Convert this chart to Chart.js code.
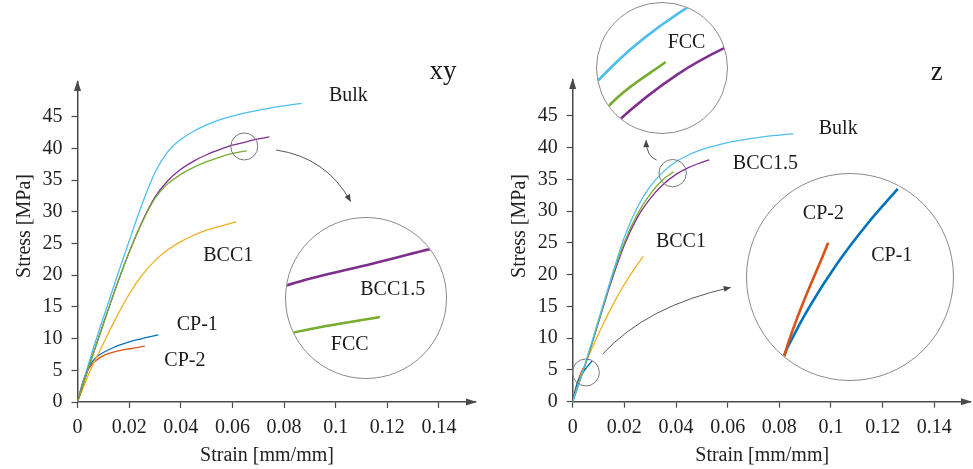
<!DOCTYPE html>
<html>
<head>
<meta charset="utf-8">
<title>Stress-strain xy / z</title>
<script src="https://cdn.jsdelivr.net/npm/chart.js@4.4.0/dist/chart.umd.min.js"></script>
<style>
  body { margin: 0; background: #fff; width: 973px; height: 469px; overflow: hidden; position: relative; }
  canvas { position: absolute; left: 0; top: 0; }
  .lens { position: absolute; border: 1px solid #8a8a8a; border-radius: 50%; overflow: hidden; background: #fff; }
</style>
</head>
<body>
<canvas id="xyChart" width="486" height="469"></canvas>
<canvas id="zChart" width="487" height="469" style="left:486px"></canvas>
<div class="lens" style="left:285px;top:217px;width:160px;height:160px"><canvas id="xyLens" width="160" height="160"></canvas></div>
<div class="lens" style="left:596px;top:2px;width:130px;height:130px"><canvas id="zLensTop" width="130" height="130"></canvas></div>
<div class="lens" style="left:746px;top:173px;width:206px;height:206px"><canvas id="zLensCP" width="206" height="206"></canvas></div>
<script>
"use strict";

// ---- xy direction (left panel) ----
const bulkXYStrain = [0, 0.005, 0.01, 0.015, 0.02, 0.025, 0.03, 0.035, 0.04, 0.045, 0.05, 0.055, 0.06, 0.065, 0.07, 0.075, 0.08, 0.0868];
const bulkXYStress = [0, 7.0, 13.3, 19.4, 25.4, 31.2, 36.2, 39.5, 41.4, 42.7, 43.7, 44.5, 45.1, 45.6, 46.0, 46.4, 46.7, 47.1];
const bcc15XYStrain = [0, 0.005, 0.01, 0.015, 0.02, 0.025, 0.03, 0.035, 0.04, 0.045, 0.05, 0.055, 0.06, 0.065, 0.07, 0.0743];
const bcc15XYStress = [0, 6.3, 12.3, 18.2, 23.6, 28.4, 32.3, 34.9, 36.7, 38.0, 39.0, 39.8, 40.5, 41.0, 41.5, 41.8];
const fccXYStrain = [0, 0.005, 0.01, 0.015, 0.02, 0.025, 0.03, 0.035, 0.04, 0.045, 0.05, 0.055, 0.06, 0.0655];
const fccXYStress = [0, 6.3, 12.3, 18.2, 23.6, 28.3, 32.1, 34.4, 35.9, 37.0, 37.9, 38.6, 39.2, 39.6];
const bcc1XYStrain = [0, 0.005, 0.01, 0.015, 0.02, 0.025, 0.03, 0.035, 0.04, 0.045, 0.05, 0.055, 0.0614];
const bcc1XYStress = [0, 5.0, 9.2, 13.3, 17.0, 20.0, 22.3, 24.0, 25.3, 26.3, 27.1, 27.7, 28.4];
const cp1XYStrain = [0, 0.002, 0.004, 0.006, 0.008, 0.01, 0.014, 0.018, 0.022, 0.026, 0.0313];
const cp1XYStress = [0, 3.0, 5.2, 6.5, 7.3, 7.8, 8.6, 9.2, 9.7, 10.1, 10.6];
const cp2XYStrain = [0, 0.002, 0.004, 0.006, 0.008, 0.011, 0.015, 0.02, 0.0261];
const cp2XYStress = [0, 3.0, 5.0, 6.1, 6.8, 7.5, 8.0, 8.4, 8.8];

// ---- z direction (right panel) ----
const bulkZStrain = [0, 0.005, 0.01, 0.015, 0.02, 0.025, 0.03, 0.035, 0.04, 0.045, 0.05, 0.055, 0.06, 0.065, 0.07, 0.075, 0.08, 0.0854];
const bulkZStress = [0, 6.2, 12.9, 19.6, 25.9, 30.6, 33.9, 36.2, 37.8, 38.9, 39.7, 40.3, 40.8, 41.2, 41.5, 41.8, 42.0, 42.2];
const bcc15ZStrain = [0, 0.005, 0.01, 0.015, 0.02, 0.025, 0.03, 0.035, 0.04, 0.045, 0.05, 0.0529];
const bcc15ZStress = [0, 6.0, 12.5, 19.0, 24.7, 29.0, 32.0, 34.2, 35.8, 36.9, 37.7, 38.1];
const fccZStrain = [0, 0.005, 0.01, 0.015, 0.02, 0.025, 0.03, 0.035, 0.039];
const fccZStress = [0, 6.0, 12.6, 19.3, 25.1, 29.5, 32.7, 35.0, 36.2];
const bcc1ZStrain = [0, 0.004, 0.008, 0.012, 0.016, 0.02, 0.024, 0.0273];
const bcc1ZStress = [0, 5.0, 8.9, 12.4, 15.6, 18.5, 21.0, 22.9];
const cp1ZStrain = [0, 0.0018, 0.0022, 0.003, 0.0045, 0.006, 0.0075];
const cp1ZStress = [0, 3.0, 3.35, 3.95, 4.9, 5.7, 6.4];
const cp2ZStrain = [0, 0.0018, 0.004];
const cp2ZStress = [0, 3.0, 5.3];

const strainTicks = [0, 0.02, 0.04, 0.06, 0.08, 0.1, 0.12, 0.14];
const stressTicks = [0, 5, 10, 15, 20, 25, 30, 35, 40, 45];

const COL = { bulk: '#4DBEEE', bcc15: '#7E2F8E', fcc: '#77AC30', bcc1: '#EDB120', cp1: '#0072BD', cp2: '#D95319' };
const SERIF = '"Liberation Serif", "Times New Roman", serif';
const AXIS = '#4a4a4a';

const pts = (xs, ys) => xs.map((x, i) => ({ x: x, y: ys[i] }));

function line(xs, ys, color, width) {
  return {
    data: pts(xs, ys),
    borderColor: color,
    borderWidth: width,
    pointRadius: 0,
    fill: false,
    cubicInterpolationMode: 'monotone'
  };
}

function arrowHead(ctx, x, y, ang) {
  ctx.beginPath();
  ctx.moveTo(x, y);
  ctx.lineTo(x - 7 * Math.cos(ang) + 3 * Math.sin(ang), y - 7 * Math.sin(ang) - 3 * Math.cos(ang));
  ctx.lineTo(x - 7 * Math.cos(ang) - 3 * Math.sin(ang), y - 7 * Math.sin(ang) + 3 * Math.cos(ang));
  ctx.closePath();
  ctx.fill();
}

// draws axis arrows, titles, labels, lens circles and callout arrows
function decor(cfg) {
  return {
    id: 'decor',
    afterDraw(chart) {
      const ctx = chart.ctx, a = chart.chartArea;
      const sx = chart.scales.x, sy = chart.scales.y;
      const P = (v) => [sx.getPixelForValue(v[0]), sy.getPixelForValue(v[1])];
      ctx.save();
      if (cfg.axes) {
        ctx.fillStyle = AXIS;
        // y arrow
        ctx.beginPath();
        ctx.moveTo(a.left, a.top - 2);
        ctx.lineTo(a.left - 3.5, a.top + 9);
        ctx.lineTo(a.left + 3.5, a.top + 9);
        ctx.closePath();
        ctx.fill();
        // x arrow
        ctx.beginPath();
        ctx.moveTo(a.right + 2, a.bottom);
        ctx.lineTo(a.right - 9, a.bottom - 3.5);
        ctx.lineTo(a.right - 9, a.bottom + 3.5);
        ctx.closePath();
        ctx.fill();
        ctx.fillStyle = '#222';
        ctx.font = '20px ' + SERIF;
        ctx.textAlign = 'center';
        ctx.textBaseline = 'middle';
        ctx.fillText('Strain [mm/mm]', a.left + 189.5, 456);
        ctx.translate(a.left - 53, 226);
        ctx.rotate(-Math.PI / 2);
        ctx.fillText('Stress [MPa]', 0, 0);
        ctx.setTransform(1, 0, 0, 1, 0, 0);
      }
      (cfg.circles || []).forEach(c => {
        const p = P(c.at);
        ctx.strokeStyle = '#777';
        ctx.lineWidth = 1;
        ctx.beginPath();
        ctx.arc(p[0], p[1], c.r, 0, Math.PI * 2);
        ctx.stroke();
      });
      (cfg.arrows || []).forEach(ar => {
        const p0 = P(ar.from), c = P(ar.via), p2 = P(ar.to);
        ctx.strokeStyle = '#555';
        ctx.fillStyle = '#444';
        ctx.lineWidth = 1;
        ctx.beginPath();
        ctx.moveTo(p0[0], p0[1]);
        ctx.quadraticCurveTo(c[0], c[1], p2[0], p2[1]);
        ctx.stroke();
        arrowHead(ctx, p2[0], p2[1], Math.atan2(p2[1] - c[1], p2[0] - c[0]));
      });
      ctx.fillStyle = '#1a1a1a';
      ctx.textAlign = 'center';
      ctx.textBaseline = 'middle';
      (cfg.labels || []).forEach(l => {
        const p = P(l.at);
        ctx.font = (l.size || 20) + 'px ' + SERIF;
        ctx.fillText(l.text, p[0], p[1]);
      });
      ctx.restore();
    }
  };
}

function panel(id, datasets, o, cfg) {
  return new Chart(document.getElementById(id), {
    type: 'line',
    data: { datasets: datasets },
    options: {
      responsive: false,
      animation: false,
      events: [],
      layout: { padding: { top: o.top, right: o.right, left: 0, bottom: 0 } },
      plugins: { legend: { display: false }, tooltip: { enabled: false } },
      scales: {
        x: {
          type: 'linear', min: 0, max: o.xMax,
          border: { color: AXIS, width: 1.5 },
          grid: { drawOnChartArea: false, tickLength: 6, tickColor: AXIS, tickWidth: 1.2 },
          afterBuildTicks: s => { s.ticks = strainTicks.map(v => ({ value: v })); },
          ticks: {
            color: '#222', padding: 8, maxRotation: 0, autoSkip: false,
            font: { family: SERIF, size: 20 },
            callback: v => String(+v.toFixed(2))
          },
          afterFit: s => { s.height = o.xh; }
        },
        y: {
          type: 'linear', min: 0, max: o.yMax,
          border: { color: AXIS, width: 1.5 },
          grid: { drawOnChartArea: false, tickLength: 6, tickColor: AXIS, tickWidth: 1.2 },
          afterBuildTicks: s => { s.ticks = stressTicks.map(v => ({ value: v })); },
          ticks: { color: '#222', padding: 9, font: { family: SERIF, size: 20 } },
          afterFit: s => { s.width = o.yw; }
        }
      }
    },
    plugins: [decor(cfg)]
  });
}

function lens(id, datasets, xr, yr, cfg) {
  return new Chart(document.getElementById(id), {
    type: 'line',
    data: { datasets: datasets },
    options: {
      responsive: false,
      animation: false,
      events: [],
      layout: { padding: 0 },
      plugins: { legend: { display: false }, tooltip: { enabled: false } },
      scales: {
        x: { type: 'linear', display: false, min: xr[0], max: xr[1] },
        y: { type: 'linear', display: false, min: yr[0], max: yr[1] }
      }
    },
    plugins: [decor(cfg)]
  });
}

const W = 1.3, WL = 2.6;

panel('xyChart', [
  line(fccXYStrain, fccXYStress, COL.fcc, W),
  line(bcc15XYStrain, bcc15XYStress, COL.bcc15, W),
  line(bulkXYStrain, bulkXYStress, COL.bulk, W),
  line(bcc1XYStrain, bcc1XYStress, COL.bcc1, W),
  line(cp2XYStrain, cp2XYStress, COL.cp2, W),
  line(cp1XYStrain, cp1XYStress, COL.cp1, W)
], { top: 82, right: 11, xMax: 0.15395, yMax: 50.47, xh: 67, yw: 77.5 }, {
  axes: true,
  circles: [{ at: [0.0646, 40.3], r: 13.5 }],
  arrows: [{ from: [0.0769, 39.75], via: [0.0965, 38.56], to: [0.1058, 31.6] }],
  labels: [
    { text: 'xy', at: [0.1416, 52.1], size: 27 },
    { text: 'Bulk', at: [0.1049, 48.26] },
    { text: 'BCC1', at: [0.0584, 23.08] },
    { text: 'CP-1', at: [0.0464, 12.14] },
    { text: 'CP-2', at: [0.0416, 6.47] }
  ]
});

panel('zChart', [
  line(bulkZStrain, bulkZStress, COL.bulk, W),
  line(fccZStrain, fccZStress, COL.fcc, W),
  line(bcc15ZStrain, bcc15ZStress, COL.bcc15, W),
  line(bcc1ZStrain, bcc1ZStress, COL.bcc1, W),
  line(cp1ZStrain, cp1ZStress, COL.cp1, W),
  line(cp2ZStrain, cp2ZStress, COL.cp2, W)
], { top: 80, right: 3, xMax: 0.15382, yMax: 50.67, xh: 67.3, yw: 86.7 }, {
  axes: true,
  circles: [{ at: [0.0387, 36.0], r: 13.7 }, { at: [0.0051, 4.6], r: 13.5 }],
  arrows: [
    { from: [0.0325, 38.06], via: [0.0286, 38.6], to: [0.0284, 41.2] },
    { from: [0.0116, 7.5], via: [0.02865, 15.07], to: [0.0612, 18.0] }
  ],
  labels: [
    { text: 'z', at: [0.1409, 51.82], size: 27 },
    { text: 'Bulk', at: [0.1028, 42.95] },
    { text: 'BCC1.5', at: [0.0746, 37.44] },
    { text: 'BCC1', at: [0.0419, 25.2] }
  ]
});

lens('xyLens', [
  line(fccXYStrain, fccXYStress, COL.fcc, WL),
  line(bcc15XYStrain, bcc15XYStress, COL.bcc15, WL)
], [0.0594, 0.0698], [38.0, 42.2], {
  labels: [
    { text: 'BCC1.5', at: [0.06634, 40.32] },
    { text: 'FCC', at: [0.06354, 38.86] }
  ]
});

lens('zLensTop', [
  line(bulkZStrain, bulkZStress, COL.bulk, WL),
  line(fccZStrain, fccZStress, COL.fcc, WL),
  line(bcc15ZStrain, bcc15ZStress, COL.bcc15, WL)
], [0.0334, 0.044], [33.85, 38.15], {
  labels: [{ text: 'FCC', at: [0.0407, 36.84] }]
});

lens('zLensCP', [
  line(cp2ZStrain, cp2ZStress, COL.cp2, WL),
  line(cp1ZStrain, cp1ZStress, COL.cp1, WL)
], [-0.00008, 0.01028], [2.494, 6.706], {
  labels: [
    { text: 'CP-2', at: [0.00376, 5.89] },
    { text: 'CP-1', at: [0.0072, 5.03] }
  ]
});
</script>
</body>
</html>
